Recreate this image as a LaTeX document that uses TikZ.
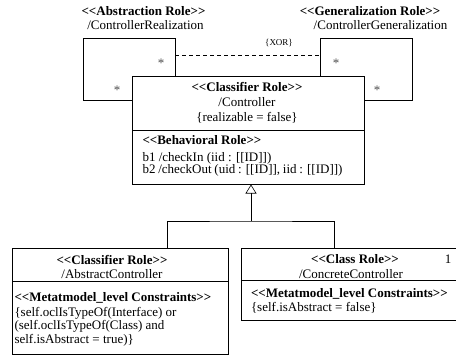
\documentclass[tikz,border=0pt]{standalone}
\usepackage{fontspec}
\setmainfont{Liberation Serif}
\usetikzlibrary{arrows.meta}
% stereotype brackets written as two separate angle characters
\newcommand{\stereo}[1]{<{}<#1>{}>}
\begin{document}
\begin{tikzpicture}[x=1pt,y=-1pt,
  every node/.style={inner sep=0pt,outer sep=0pt,font=\fontsize{13}{13.5}\selectfont},
  box/.style={draw,line width=0.6pt,rectangle,anchor=north west},
  rule/.style={line width=0.6pt},
  link/.style={line width=0.6pt},
  hdr/.style={font=\fontsize{13}{13.5}\selectfont\bfseries},
  txt/.style={align=left,anchor=west},
  tight/.style={font=\fontsize{13}{11}\selectfont},
  mult/.style={font=\fontsize{13}{13}\selectfont,text=black!70},
  small/.style={font=\fontsize{9}{9}\selectfont}]
\useasboundingbox (0,0) rectangle (456,356);

% ---- Controller classifier role ----
\node[box,minimum width=232pt,minimum height=108pt] (ctrl) at (132,76) {};
\draw[rule] (132,130) -- (364,130);
\node[hdr] (ctrlst) at (247,87) {\stereo{Classifier Role}};
\node (ctrlnm) at (247,102) {/Controller};
\node (ctrlcn) at (247,117.5) {\{realizable = false\}};
\node[hdr,anchor=west] (behst) at (142.5,140) {\stereo{Behavioral Role}};
\node[txt,tight,anchor=north west] (behops) at (142.5,152) {b1 /checkIn (iid : [[ID]])\\
  \makebox[200pt][s]{b2 /checkOut (uid : [[ID]], iid : [[ID]])}};

% ---- abstraction self-association ----
\coordinate (absA) at (132,100);
\coordinate (absB) at (175,76);
\draw[link] (absA) -- (83,100) -- (83,38) -- (175,38) -- (absB);
\node[mult] (absm1) at (161,63) {*};
\node[mult] (absm2) at (117,90) {*};
\node[hdr] (absst) at (143.5,11) {\stereo{Abstraction Role}};
\node (absnm) at (145.5,25.5) {/ControllerRealization};

% ---- generalization self-association ----
\coordinate (genA) at (320,76);
\coordinate (genB) at (364,100);
\draw[link] (genA) -- (320,38) -- (412,38) -- (412,100) -- (genB);
\node[mult] (genm1) at (336,63) {*};
\node[mult] (genm2) at (377,90) {*};
\node[hdr] (genst) at (370,11) {\stereo{Generalization Role}};
\node (gennm) at (380.5,25.5) {/ControllerGeneralization};

% ---- xor constraint between the two associations ----
\coordinate (xorA) at (175,55);
\coordinate (xorB) at (320,55);
\draw[link,dash pattern=on 4pt off 3pt] (xorA) -- (xorB);
\node[small] (xor) at (279,43) {\{XOR\}};

% ---- AbstractController ----
\node[box,minimum width=216pt,minimum height=106pt] (absc) at (12,248) {};
\draw[rule] (12,281) -- (228,281);
\node[hdr] (abscst) at (112,260) {\stereo{Classifier Role}};
\node (abscnm) at (112,274) {/AbstractController};
\node[hdr,anchor=west] (absccst) at (14.5,298) {\stereo{Metatmodel\_level Constraints}};
\node[txt] (absccn1) at (14.5,313) {\{self.oclIsTypeOf(Interface) or};
\node[txt] (absccn2) at (14.5,326.5) {(self.oclIsTypeOf(Class) and};
\node[txt] (absccn3) at (14.5,340) {self.isAbstract = true)\}};

% ---- ConcreteController ----
\node[box,minimum width=215pt,minimum height=72pt] (conc) at (241.5,248) {};
\draw[rule] (241.5,280) -- (456,280);
\node[hdr] (concst) at (355,259) {\stereo{Class Role}};
\node (concm) at (448,259) {1};
\node (concnm) at (351,274) {/ConcreteController};
\node[hdr,anchor=west] (concc) at (251,294) {\stereo{Metatmodel\_level Constraints}};
\node[txt] (conccn) at (251,308) {\{self.isAbstract = false\}};

% ---- generalization tree ----
\coordinate (gtip) at (251,184.5);
\coordinate (gjoin) at (251,221);
\coordinate (gleft) at (167,248);
\coordinate (gright) at (334,248);
\draw[link] (gleft) |- (gjoin) -| (gright);
\draw[link,-{Triangle[open,length=9pt,width=11pt,line width=0.6pt]}] (gjoin) -- (gtip);
\end{tikzpicture}
\end{document}
